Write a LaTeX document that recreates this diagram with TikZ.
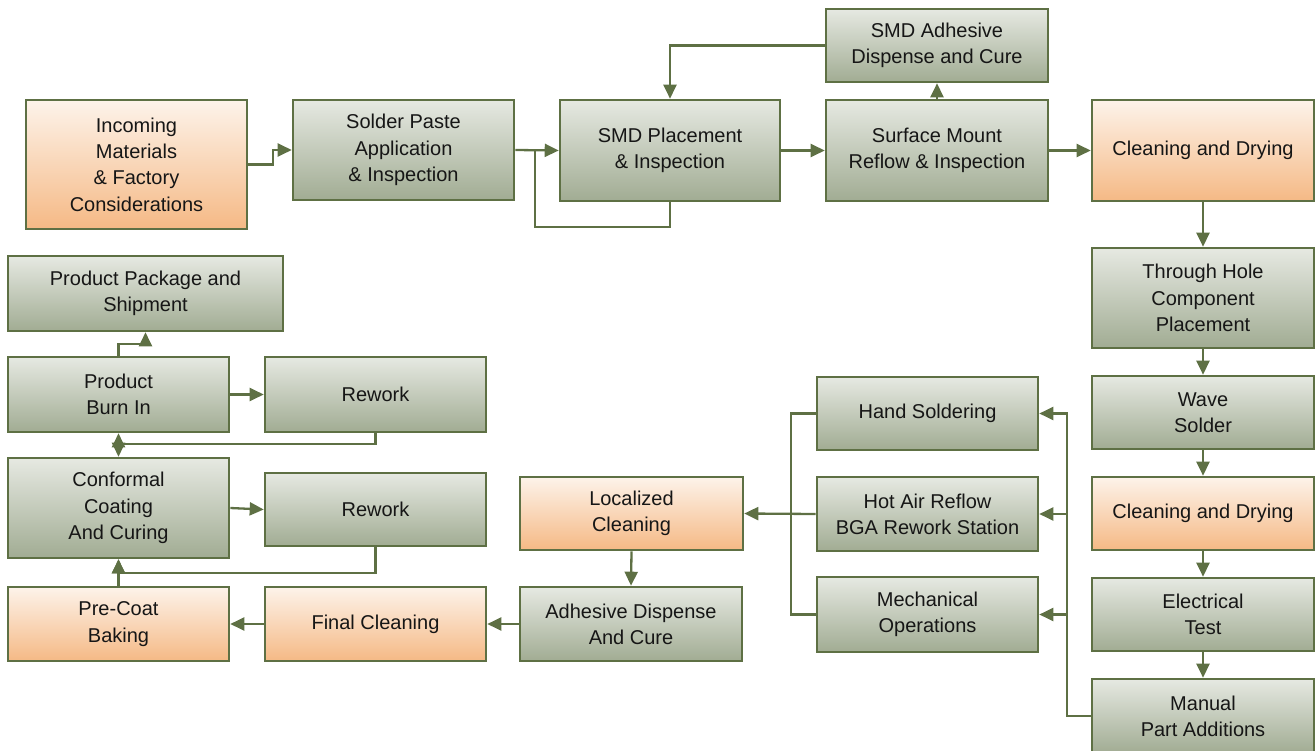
\documentclass[tikz,border=0pt]{standalone}
\usepackage{fontspec}
\setmainfont{Liberation Sans}
\usetikzlibrary{arrows.meta}
\definecolor{edge}{HTML}{5E7044}
\definecolor{gtop}{HTML}{E6E9E2}
\definecolor{gbot}{HTML}{A1AC93}
\definecolor{otop}{HTML}{FDF3EA}
\definecolor{obot}{HTML}{F5B985}
\definecolor{txt}{HTML}{161616}
\tikzset{
  box/.style={draw=edge, line width=2.6pt, align=center, inner sep=2pt,
    font=\fontsize{20}{26.3}\selectfont, text=txt},
  gbox/.style={box, top color=gtop, bottom color=gbot},
  obox/.style={box, top color=otop, bottom color=obot},
  line/.style={draw=edge, line width=2.3pt},
  arr/.style={line, -{Triangle[length=14pt,width=13pt]}}
}
\begin{document}
\begin{tikzpicture}[x=1pt,y=-1pt]
\useasboundingbox (0,0) rectangle (1316,751);
\clip (0,0) rectangle (1316,751);
% top row
\node[obox, minimum width=221, minimum height=129] (inc) at (136.5,164.5) {Incoming\\Materials\\\& Factory\\Considerations};
\node[gbox, minimum width=221, minimum height=100] (sp) at (403.5,150) {Solder Paste\\Application\\\& Inspection};
\node[gbox, minimum width=220, minimum height=101] (smd) at (670,150.5) {SMD Placement\\\& Inspection};
\node[gbox, minimum width=222, minimum height=101] (smr) at (937,150.5) {Surface Mount\\Reflow \& Inspection};
\node[gbox, minimum width=222, minimum height=73] (sad) at (937,45.5) {SMD Adhesive\\Dispense and Cure};
\node[obox, minimum width=222, minimum height=101] (cd1) at (1203,150.5) {Cleaning and Drying};
% right column
\node[gbox, minimum width=222, minimum height=100] (th) at (1203,298) {Through Hole\\Component\\Placement};
\node[gbox, minimum width=222, minimum height=73] (ws) at (1203,412.5) {Wave\\Solder};
\node[obox, minimum width=222, minimum height=73] (cd2) at (1203,513.5) {Cleaning and Drying};
\node[gbox, minimum width=222, minimum height=73] (et) at (1203,614.5) {Electrical\\Test};
\node[gbox, minimum width=222, minimum height=74] (ma) at (1203,716) {Manual\\Part Additions};
% middle
\node[gbox, minimum width=221, minimum height=73] (hs) at (927.5,413.5) {Hand Soldering};
\node[gbox, minimum width=221, minimum height=74] (ha) at (927.5,514) {Hot Air Reflow\\BGA Rework Station};
\node[gbox, minimum width=221, minimum height=75] (mo) at (927.5,614.5) {Mechanical\\Operations};
\node[obox, minimum width=223, minimum height=73] (lc) at (631.5,513.5) {Localized\\Cleaning};
\node[gbox, minimum width=222, minimum height=74] (ad) at (631,624) {Adhesive Dispense\\And Cure};
\node[obox, minimum width=221, minimum height=74] (fc) at (375.5,624) {Final Cleaning};
% left
\node[obox, minimum width=221, minimum height=74] (pb) at (118.5,624) {Pre-Coat\\Baking};
\node[gbox, minimum width=221, minimum height=100] (cc) at (118.5,508) {Conformal\\Coating\\And Curing};
\node[gbox, minimum width=221, minimum height=73] (rw2) at (375.5,509.5) {Rework};
\node[gbox, minimum width=221, minimum height=75] (bi) at (118.5,394.5) {Product\\Burn In};
\node[gbox, minimum width=221, minimum height=75] (rw1) at (375.5,394.5) {Rework};
\node[gbox, minimum width=275, minimum height=75] (pp) at (145.5,293.5) {Product Package and\\Shipment};
% coordinates
\coordinate (j1) at (535,150);
\coordinate (j2) at (118.5,443);
% connectors top
\draw[arr] (inc.east) -- ++(25,0) |- (sp.west);
\draw[arr] (sp.east) -- (smd.west);
\draw[line] (smd.south) -- ++(0,25) -| (j1);
\draw[arr] (smd.east) -- (smr.west);
\draw[arr] (smr.north) -- (sad.south);
\draw[arr] (sad.west) -| (smd.north);
\draw[arr] (smr.east) -- (cd1.west);
% right column
\draw[arr] (cd1.south) -- (th.north);
\draw[arr] (th.south) -- (ws.north);
\draw[arr] (ws.south) -- (cd2.north);
\draw[arr] (cd2.south) -- (et.north);
\draw[arr] (et.south) -- (ma.north);
\draw[arr] (ma.west) -- ++(-24,0) |- (hs.east);
\draw[arr] (ma.west) -- ++(-24,0) |- (ha.east);
\draw[arr] (ma.west) -- ++(-24,0) |- (mo.east);
% middle
\draw[line] (hs.west) -- ++(-25,0) |- (mo.west);
\draw[arr] (ha.west) -- (lc.east);
\draw[arr] (lc.south) -- (ad.north);
\draw[arr] (ad.west) -- (fc.east);
\draw[arr] (fc.west) -- (pb.east);
% left
\draw[arr] (pb.north) -- (cc.south);
\draw[arr] (cc.east) -- (rw2.west);
\draw[arr] (rw2.south) -- ++(0,26) -| (cc.south);
\draw[arr] (rw1.south) -- ++(0,11) -| (bi.south);
\draw[arr] (j2) -- (cc.north);
\draw[arr] (bi.east) -- (rw1.west);
\draw[arr] (bi.north) -- ++(0,-12) -| (pp.south);
\end{tikzpicture}
\end{document}
